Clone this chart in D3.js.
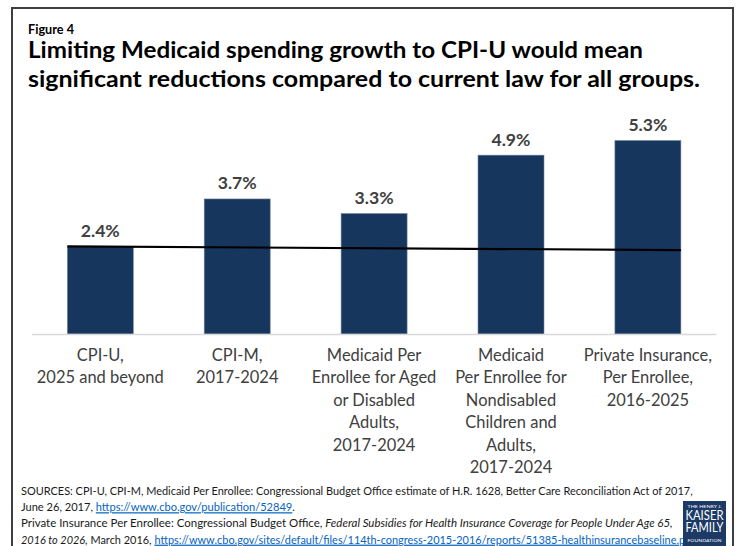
<!DOCTYPE html>
<html>
<head>
<meta charset="utf-8">
<script src="https://cdn.jsdelivr.net/npm/d3@7"></script>
<style>
  html, body { margin: 0; padding: 0; background: #fff; }
  svg { display: block; }
  text { font-family: Lato, "Open Sans", sans-serif; }
</style>
</head>
<body>
<svg id="chart" width="739" height="546"></svg>
<script>
// ---- data ----
const categoryLines = [
  ["CPI-U,", "2025 and beyond"],
  ["CPI-M,", "2017-2024"],
  ["Medicaid Per", "Enrollee for Aged", "or Disabled", "Adults,", "2017-2024"],
  ["Medicaid", "Per Enrollee for", "Nondisabled", "Children and", "Adults,", "2017-2024"],
  ["Private Insurance,", "Per Enrollee,", "2016-2025"]
];
const growthRates = [2.4, 3.7, 3.3, 4.9, 5.3];
const valueLabels = ["2.4%", "3.7%", "3.3%", "4.9%", "5.3%"];
// CPI-U benchmark line: value at the first bar's left edge and the last bar's right edge
const benchmarkLine = [2.4, 2.3];
const yDomain = [0, 6];

const figureLabel = "Figure 4";
const titleLines = [
  "Limiting Medicaid spending growth to CPI-U would mean",
  "significant reductions compared to current law for all groups."
];
const sourceLines = [
  [{ t: "SOURCES: CPI-U, CPI-M, Medicaid Per Enrollee: Congressional Budget Office estimate of H.R. 1628, Better Care Reconciliation Act of 2017," }],
  [{ t: "June 26, 2017, " }, { t: "https://www.cbo.gov/publication/52849", link: true }, { t: "." }],
  [{ t: "Private Insurance Per Enrollee: Congressional Budget Office, " }, { t: "Federal Subsidies for Health Insurance Coverage for People Under Age 65,", italic: true }],
  [{ t: "2016 to 2026,", italic: true }, { t: " March 2016, " }, { t: "https://www.cbo.gov/sites/default/files/114th-congress-2015-2016/reports/51385-healthinsurancebaseline.pdf", link: true }]
];
const logoLines = ["THE HENRY J.", "KAISER", "FAMILY", "FOUNDATION"];

// ---- layout ----
const svg = d3.select("#chart");
const textGray = "#404040";
const barColor = "#17365d";

// frame
svg.append("rect")
  .attr("x", 12).attr("y", 8).attr("width", 721).attr("height", 600)
  .attr("fill", "none").attr("stroke", "#3f3f3f").attr("stroke-width", 2);

// helper: scale a text's font size so its natural width hits a target
function fitFontSize(sel, target) {
  const w = sel.node().getComputedTextLength();
  const fs = parseFloat(sel.attr("font-size"));
  return fs * target / w;
}

// figure label
svg.append("text")
  .attr("x", 28).attr("y", 34)
  .attr("font-size", 13).attr("font-weight", 700).attr("fill", "#000")
  .text(figureLabel)
  .attr("textLength", 46).attr("lengthAdjust", "spacingAndGlyphs");

// title
const titleWidths = [615, 672];
svg.selectAll("text.title").data(titleLines).join("text")
  .attr("class", "title")
  .attr("x", 28).attr("y", (d, i) => 58 + i * 29)
  .attr("font-size", 22.5).attr("font-weight", 700).attr("fill", "#000")
  .text(d => d)
  .attr("textLength", (d, i) => titleWidths[i])
  .attr("lengthAdjust", "spacingAndGlyphs");

// scales
const x = d3.scaleBand()
  .domain(d3.range(growthRates.length))
  .range([31.85, 716.35])
  .paddingInner(0.518)
  .paddingOuter(0.259);
const y = d3.scaleLinear().domain(yDomain).range([334, 334 - 36.5 * 6]);

// bars
svg.selectAll("rect.bar").data(growthRates).join("rect")
  .attr("class", "bar")
  .attr("x", (d, i) => x(i))
  .attr("y", d => y(d))
  .attr("width", x.bandwidth())
  .attr("height", d => y(0) - y(d))
  .attr("fill", barColor)
  .attr("stroke", "#6f86a3").attr("stroke-width", 0.6);

// category axis baseline
const axis = svg.append("g").attr("transform", `translate(0,${y(0)})`)
  .call(d3.axisBottom(x).tickSize(0).tickFormat(""));
axis.select(".domain")
  .attr("stroke", "#d9d9d9").attr("stroke-width", 1.5)
  .attr("d", `M${x.range()[0]},0.5H${x.range()[1]}`);

// benchmark line across the bars
const first = 0, last = growthRates.length - 1;
svg.append("line")
  .attr("x1", x(first)).attr("y1", y(benchmarkLine[0]))
  .attr("x2", x(last) + x.bandwidth()).attr("y2", y(benchmarkLine[1]))
  .attr("stroke", "#000").attr("stroke-width", 2.2);

// value labels
const probeV = svg.append("text").attr("font-size", 19).attr("font-weight", 700).text("2.4%");
const valueFs = fitFontSize(probeV, 39);
probeV.remove();
svg.selectAll("text.val").data(growthRates).join("text")
  .attr("class", "val")
  .attr("x", (d, i) => x(i) + x.bandwidth() / 2)
  .attr("y", d => y(d) - 9.5)
  .attr("text-anchor", "middle")
  .attr("font-size", valueFs).attr("font-weight", 700).attr("fill", textGray)
  .text((d, i) => valueLabels[i]);

// category labels
const probeC = svg.append("text").attr("font-size", 18).text("2025 and beyond");
const catFs = fitFontSize(probeC, 127);
probeC.remove();
const cats = svg.selectAll("text.cat").data(categoryLines).join("text")
  .attr("class", "cat")
  .attr("text-anchor", "middle")
  .attr("font-size", catFs).attr("fill", textGray);
cats.selectAll("tspan").data((d, i) => d.map(t => ({ t, i }))).join("tspan")
  .attr("x", d => x(d.i) + x.bandwidth() / 2)
  .attr("y", (d, j) => 361 + j * 22.4)
  .text(d => d.t);

// sources: each line stretched horizontally to its set width
const sourceWidths = [672, 274, 652, 674];
const srcTexts = svg.append("g").selectAll("text").data(sourceLines).join("text")
  .attr("x", 0).attr("y", 0)
  .attr("font-size", 12.2).attr("fill", "#1a1a1a");
srcTexts.selectAll("tspan").data(d => d).join("tspan")
  .attr("font-style", d => d.italic ? "italic" : null)
  .attr("fill", d => d.link ? "#0563c1" : null)
  .attr("text-decoration", d => d.link ? "underline" : null)
  .text(d => d.t);
srcTexts.each(function (d, i) {
  const k = sourceWidths[i] / this.getComputedTextLength();
  d3.select(this).attr("transform", `translate(21,${495 + i * 16.2}) scale(${k},1)`);
});

// foundation logo
const logo = svg.append("g").attr("transform", "translate(683,501)");
logo.append("rect").attr("width", 43).attr("height", 45).attr("fill", "#1d3a66");
logo.selectAll("text").data(logoLines).join("text")
  .attr("x", 21.5)
  .attr("y", (d, i) => [7, 19, 31, 41][i])
  .attr("text-anchor", "middle")
  .attr("fill", "#fff")
  .attr("font-family", "'Liberation Serif', 'DejaVu Serif', serif")
  .attr("font-size", (d, i) => (i === 1 || i === 2) ? 12.5 : 4.6)
  .attr("textLength", (d, i) => (i === 1 || i === 2) ? 38 : 34)
  .attr("lengthAdjust", "spacingAndGlyphs")
  .text(d => d);
</script>
</body>
</html>
